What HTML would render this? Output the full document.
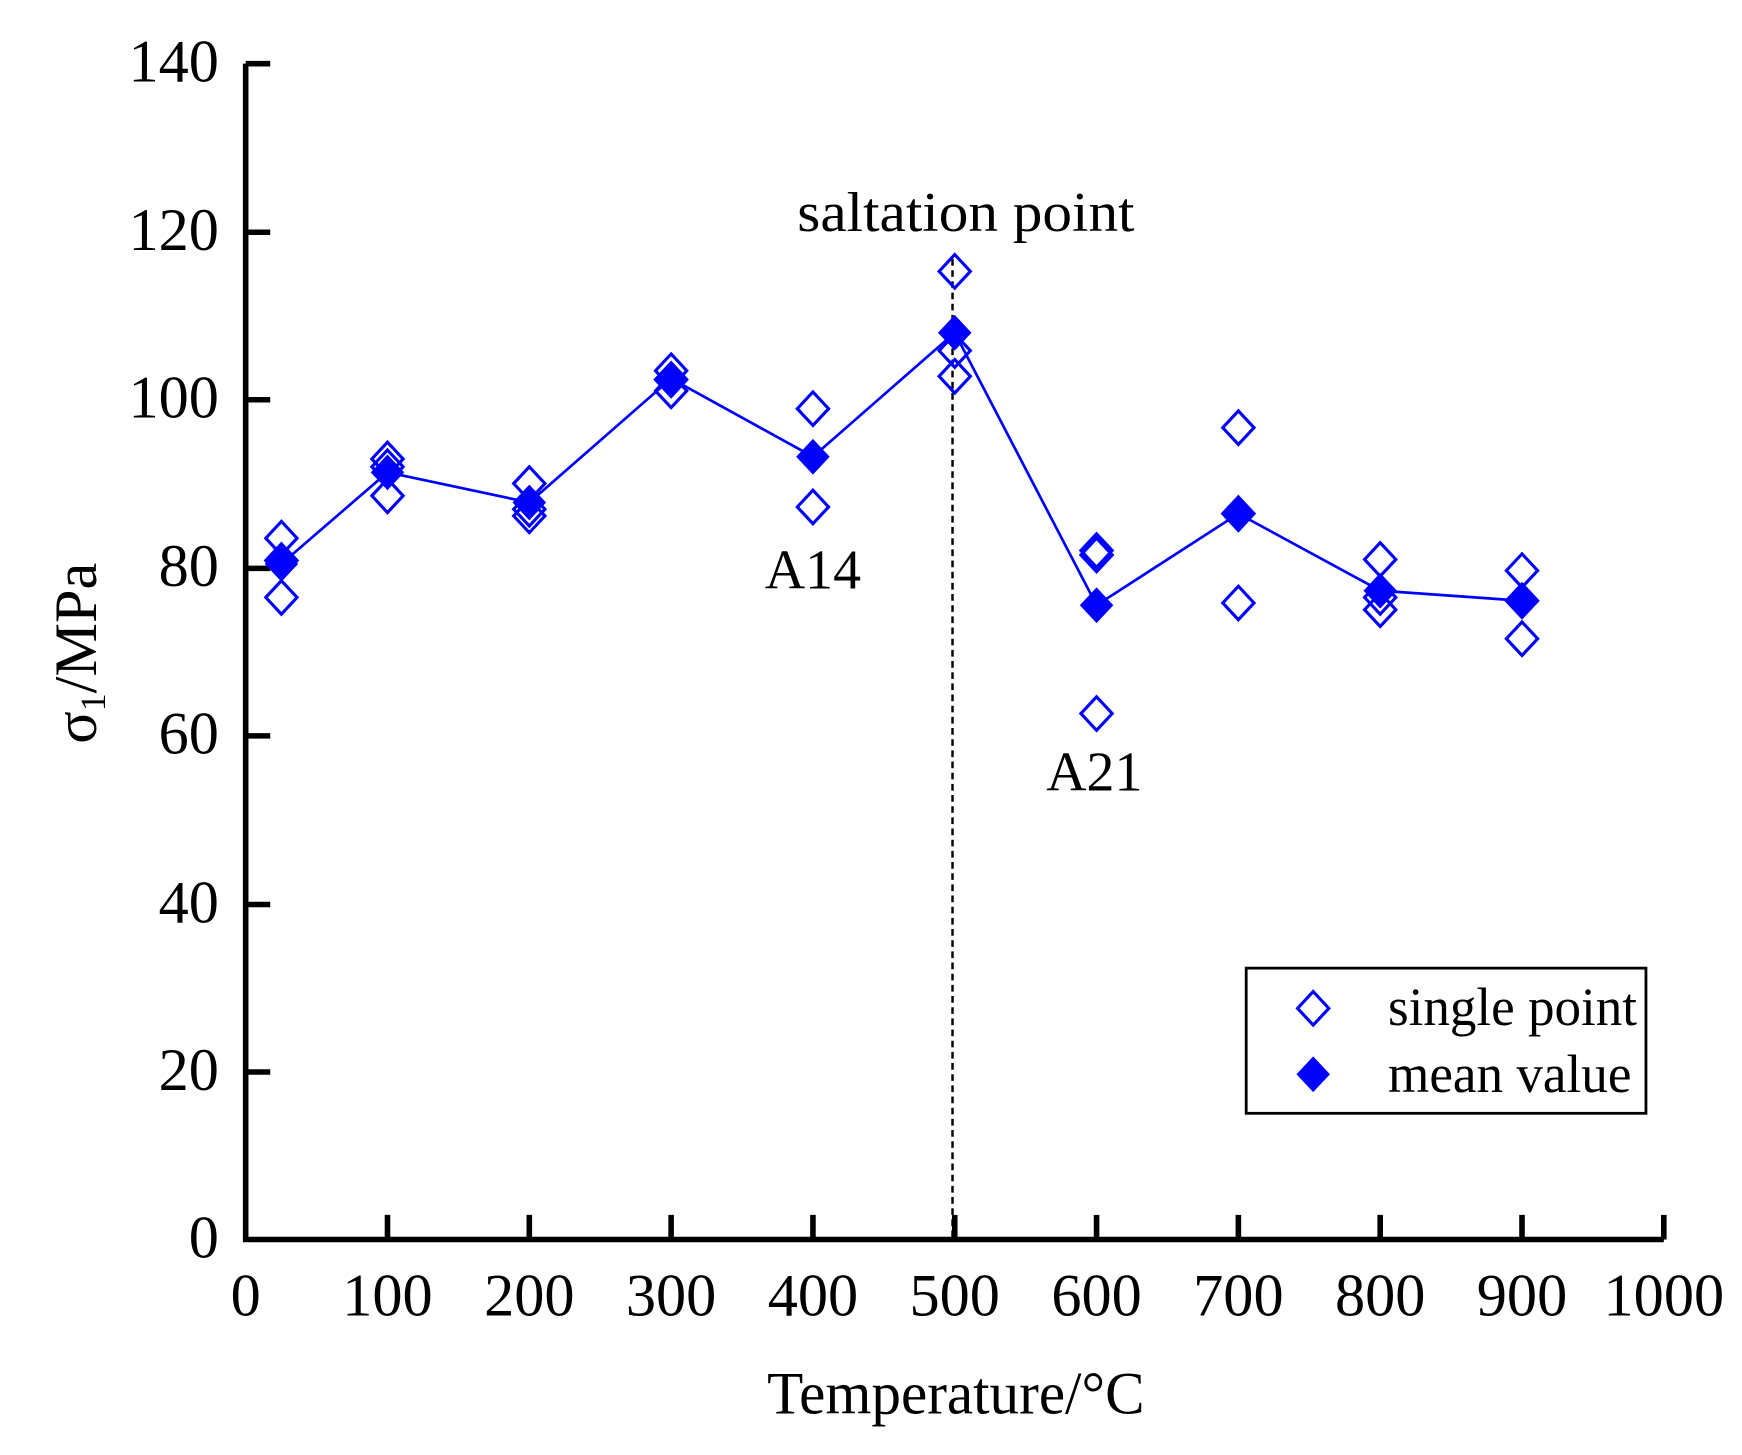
<!DOCTYPE html>
<html><head><meta charset="utf-8"><style>html,body{margin:0;padding:0;background:#fff}svg{display:block}</style></head>
<body>
<svg xmlns="http://www.w3.org/2000/svg" width="1742" height="1455" viewBox="0 0 1560 1303" font-family="'Liberation Serif', serif">
<rect width="1560" height="1303" fill="#fff"/>
<defs>
<path id="od" d="M0,-15 L14,0 L0,15 L-14,0 Z" fill="none" stroke="#0000ff" stroke-width="2.8"/>
<path id="fd" d="M0,-16 L15,0 L0,16 L-15,0 Z" fill="#0000ff"/>
</defs>
<g stroke="#000" stroke-width="5" fill="none">
<path d="M220,57 V1110 H1490"/>
<path d="M220,57 h22 M220,208 h22 M220,358 h22 M220,509 h22 M220,659 h22 M220,810 h22 M220,960 h22"/>
<path d="M347,1110 v-22 M474,1110 v-22 M601,1110 v-22 M728,1110 v-22 M855,1110 v-22 M982,1110 v-22 M1109,1110 v-22 M1236,1110 v-22 M1363,1110 v-22 M1490,1110 v-22"/>
</g>
<g font-size="54" text-anchor="end" fill="#000">
<text x="196" y="73">140</text><text x="196" y="224">120</text><text x="196" y="374">100</text>
<text x="196" y="525">80</text><text x="196" y="675">60</text><text x="196" y="826">40</text>
<text x="196" y="976">20</text><text x="196" y="1126">0</text>
</g>
<g font-size="54" text-anchor="middle" fill="#000">
<text x="220" y="1178">0</text><text x="347" y="1178">100</text><text x="474" y="1178">200</text>
<text x="601" y="1178">300</text><text x="728" y="1178">400</text><text x="855" y="1178">500</text>
<text x="982" y="1178">600</text><text x="1109" y="1178">700</text><text x="1236" y="1178">800</text>
<text x="1363" y="1178">900</text><text x="1490" y="1178">1000</text>
</g>
<text x="856" y="1266" font-size="54" text-anchor="middle" textLength="338" lengthAdjust="spacingAndGlyphs">Temperature/°C</text>
<text transform="translate(86,585) rotate(-90)" font-size="54" text-anchor="middle">σ<tspan font-size="32" dy="8">1</tspan><tspan dy="-8">/MPa</tspan></text>
<line x1="853" y1="232" x2="853" y2="1110" stroke="#000" stroke-width="2.2" stroke-dasharray="6,4"/>
<text x="865" y="207" font-size="50" text-anchor="middle" textLength="302" lengthAdjust="spacingAndGlyphs">saltation point</text>
<text x="728" y="527" font-size="50" text-anchor="middle">A14</text>
<text x="980" y="708" font-size="50" text-anchor="middle">A21</text>
<polyline fill="none" stroke="#0000ff" stroke-width="2.4" points="252,505 347,423 474,450 601,339 728,409 855,298 982,542 1109,460 1236,529 1363,538"/>
<g>
<use href="#od" x="252" y="482"/><use href="#od" x="252" y="502"/><use href="#od" x="252" y="535"/>
<use href="#od" x="347" y="411"/><use href="#od" x="347" y="418"/><use href="#od" x="347" y="444"/>
<use href="#od" x="474" y="433"/><use href="#od" x="474" y="456"/><use href="#od" x="474" y="462"/>
<use href="#od" x="601" y="332"/><use href="#od" x="601" y="340"/><use href="#od" x="601" y="350"/>
<use href="#od" x="728" y="366"/><use href="#od" x="728" y="454"/>
<use href="#od" x="855" y="243"/><use href="#od" x="855" y="314"/><use href="#od" x="855" y="337"/>
<use href="#od" x="982" y="493"/><use href="#od" x="982" y="497"/><use href="#od" x="982" y="639"/>
<use href="#od" x="1109" y="383"/><use href="#od" x="1109" y="460"/><use href="#od" x="1109" y="540"/>
<use href="#od" x="1236" y="501"/><use href="#od" x="1236" y="535"/><use href="#od" x="1236" y="546"/>
<use href="#od" x="1363" y="511"/><use href="#od" x="1363" y="538"/><use href="#od" x="1363" y="572"/>
</g>
<g>
<use href="#fd" x="252" y="505"/><use href="#fd" x="347" y="423"/><use href="#fd" x="474" y="450"/>
<use href="#fd" x="601" y="339"/><use href="#fd" x="728" y="409"/><use href="#fd" x="855" y="298"/>
<use href="#fd" x="982" y="542"/><use href="#fd" x="1109" y="460"/><use href="#fd" x="1236" y="529"/>
<use href="#fd" x="1363" y="538"/>
</g>
<rect x="1116" y="867" width="358" height="130" fill="#fff" stroke="#000" stroke-width="2.5"/>
<use href="#od" x="1176" y="903"/>
<use href="#fd" x="1176" y="962"/>
<text x="1243" y="918" font-size="48" textLength="223" lengthAdjust="spacingAndGlyphs">single point</text>
<text x="1243" y="978" font-size="48" textLength="218" lengthAdjust="spacingAndGlyphs">mean value</text>
</svg>
</body></html>
